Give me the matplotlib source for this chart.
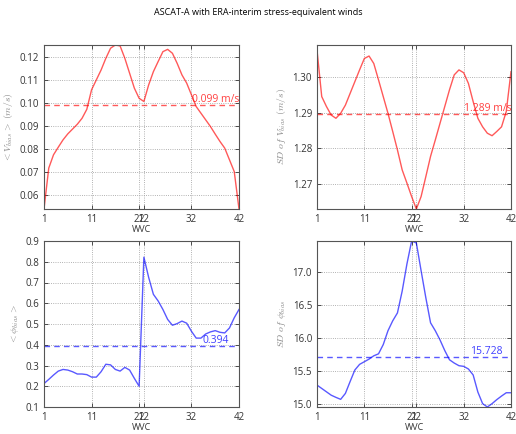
import matplotlib
matplotlib.use("Agg")
import matplotlib.pyplot as plt
import numpy as np

plt.rcParams['font.family'] = ['Open Sans', 'DejaVu Sans']
plt.rcParams['mathtext.fontset'] = 'cm'

wvc = list(range(1, 43))

v_bias_mean = [0.0538, 0.0716, 0.0774, 0.0807, 0.0839, 0.0865, 0.0886, 0.0907, 0.0933, 0.0972,
               0.1057, 0.1100, 0.1143, 0.1194, 0.1238, 0.1252, 0.1248, 0.1194, 0.1129, 0.1064,
               0.1020, 0.1006, 0.1078, 0.1136, 0.1180, 0.1223, 0.1233, 0.1216, 0.1172, 0.1122,
               0.1086, 0.1035, 0.0984, 0.0955, 0.0926, 0.0897, 0.0864, 0.0832, 0.0803, 0.0752,
               0.0701, 0.0538]
v_bias_sd = [1.3076, 1.2945, 1.2917, 1.2893, 1.2884, 1.2898, 1.2921, 1.2954, 1.2987, 1.3020,
             1.3052, 1.3059, 1.3038, 1.2992, 1.2945, 1.2898, 1.2847, 1.2795, 1.2739, 1.2702,
             1.2664, 1.2629, 1.2664, 1.2720, 1.2777, 1.2823, 1.2870, 1.2917, 1.2964, 1.3006,
             1.3020, 1.3012, 1.2982, 1.2931, 1.2884, 1.2860, 1.2842, 1.2835, 1.2847, 1.2860,
             1.2903, 1.3015]
phi_bias_mean = [0.213, 0.233, 0.254, 0.273, 0.281, 0.278, 0.270, 0.259, 0.259, 0.256,
                 0.244, 0.244, 0.270, 0.306, 0.303, 0.281, 0.273, 0.291, 0.278, 0.238,
                 0.200, 0.822, 0.725, 0.643, 0.611, 0.570, 0.522, 0.494, 0.502, 0.514,
                 0.504, 0.465, 0.432, 0.432, 0.452, 0.462, 0.468, 0.460, 0.457, 0.481,
                 0.530, 0.570]
phi_bias_sd = [15.286, 15.235, 15.184, 15.133, 15.100, 15.070, 15.160, 15.340, 15.515, 15.600,
               15.640, 15.680, 15.730, 15.760, 15.900, 16.110, 16.260, 16.380, 16.710, 17.120,
               17.470, 17.440, 17.020, 16.610, 16.230, 16.110, 15.970, 15.810, 15.670, 15.620,
               15.580, 15.570, 15.530, 15.440, 15.180, 15.005, 14.954, 15.005, 15.066, 15.120,
               15.170, 15.170]

means = [0.099, 1.2895, 0.394, 15.715]
labels = ["0.099 m/s", "1.289 m/s", "0.394", "15.728"]
label_x = [32.2, 32.1, 34.4, 33.4]
ylabels = [r"$<V_{bias}>\ (m/s)$", r"$SD\ of\ V_{bias}\ (m/s)$",
           r"$<\phi_{bias}>$", r"$SD\ of\ \phi_{bias}$"]
xticks = [1, 11, 21, 22, 32, 42]
series = [v_bias_mean, v_bias_sd, phi_bias_mean, phi_bias_sd]
colors = ['#ff0000', '#ff0000', '#0000ff', '#0000ff']
ylims = [(0.0538, 0.1252), (1.2629, 1.309), (0.1, 0.9), (14.954, 17.47)]
yticks = [[0.06, 0.07, 0.08, 0.09, 0.10, 0.11, 0.12],
          [1.27, 1.28, 1.29, 1.30],
          [0.1, 0.2, 0.3, 0.4, 0.5, 0.6, 0.7, 0.8, 0.9],
          [15.0, 15.5, 16.0, 16.5, 17.0]]
yfmt = ["{:.2f}", "{:.2f}", "{:.1f}", "{:.1f}"]

fig = plt.figure(figsize=(5.16, 4.34), dpi=100)
fig.suptitle("ASCAT-A with ERA-interim stress-equivalent winds", fontsize=6.5, y=0.982)

W, H = 516, 434
boxes = [(44, 45, 239, 209), (317, 45, 511, 209), (44, 241, 239, 407), (317, 241, 511, 407)]

for i, (x0, y0, x1, y1) in enumerate(boxes):
    ax = fig.add_axes([x0 / W, 1 - y1 / H, (x1 - x0) / W, (y1 - y0) / H])
    ax.plot(wvc, series[i], color=colors[i], alpha=0.65, lw=1.0)
    ax.axhline(means[i], color=colors[i], alpha=0.65, lw=1.0, ls=(0, (4, 3)))
    ax.text(label_x[i], means[i], labels[i], color=colors[i], alpha=0.75,
            fontsize=7.5, va='bottom', ha='left')
    ax.set_xlim(1, 42)
    ax.set_ylim(*ylims[i])
    ax.set_xticks(xticks)
    ax.set_xticklabels([str(t) for t in xticks])
    ax.set_yticks(yticks[i])
    ax.set_yticklabels([yfmt[i].format(t) for t in yticks[i]])
    ax.grid(True, color='#999999', ls=':', lw=0.6)
    ax.tick_params(direction='in', labelsize=7, colors='#333333', length=3,
                   top=True, right=True, width=0.6)
    for s in ax.spines.values():
        s.set_color('#555555')
        s.set_linewidth(0.8)
    ax.set_xlabel("WVC", fontsize=6.5, color='#333333', labelpad=0)
    ax.set_ylabel(ylabels[i], fontsize=7, color='#888888', labelpad=3)

fig.savefig("out.png", dpi=100)
